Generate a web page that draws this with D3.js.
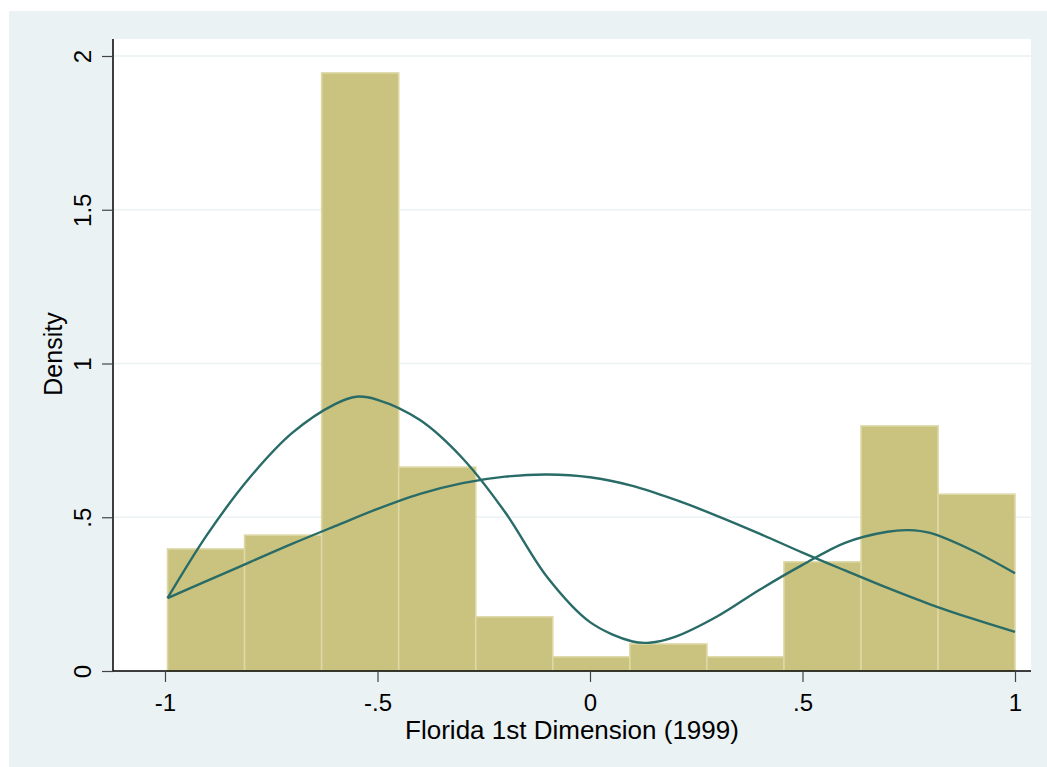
<!DOCTYPE html>
<html>
<head>
    <meta charset="utf-8">
    <title>Florida 1st Dimension</title>
    <script src="https://d3js.org/d3.v7.min.js"></script>
    <style>
      body { margin: 0; background: #ffffff; }
      text { font-family: Arial, "Liberation Sans", sans-serif; fill: #000; }
    </style>
</head>
<body>
<div id="my_dataviz"></div>
<script>

// histogram bins (edges) and density heights
var binEdges = [-0.994, -0.8127, -0.6314, -0.4501, -0.2688, -0.0875, 0.0938, 0.2751, 0.4564, 0.6377, 0.8190, 1.0];
var densities = [0.397, 0.442, 1.945, 0.663, 0.176, 0.046, 0.088, 0.046, 0.355, 0.797, 0.575];

// kernel density curve (bimodal)
var kdeX = [-0.994, -0.9, -0.8, -0.7, -0.6, -0.55, -0.5, -0.4, -0.3, -0.2, -0.1, 0.0, 0.1, 0.14, 0.2, 0.3, 0.4, 0.5, 0.6, 0.7, 0.75, 0.8, 0.9, 1.0];
var kdeY = [0.237, 0.445, 0.630, 0.775, 0.868, 0.892, 0.882, 0.816, 0.692, 0.517, 0.304, 0.159, 0.096, 0.092, 0.111, 0.178, 0.265, 0.345, 0.417, 0.453, 0.458, 0.449, 0.392, 0.318];

// normal density curve
var normX = [-0.994, -0.9, -0.8, -0.7, -0.6, -0.5, -0.4, -0.3, -0.2, -0.1, 0.0, 0.1, 0.2, 0.3, 0.4, 0.5, 0.6, 0.7, 0.8, 0.9, 1.0];
var normY = [0.237, 0.294, 0.354, 0.414, 0.471, 0.527, 0.576, 0.611, 0.632, 0.639, 0.630, 0.602, 0.557, 0.504, 0.446, 0.385, 0.327, 0.270, 0.217, 0.170, 0.127];

var xTicks = [-1, -0.5, 0, 0.5, 1];
var xTickLabels = ["-1", "-.5", "0", ".5", "1"];
var yTicks = [0, 0.5, 1, 1.5, 2];
var yTickLabels = ["0", ".5", "1", "1.5", "2"];

var W = 1047, H = 767;
// plot region
var plotLeft = 113, plotRight = 1031, plotTop = 39, plotBottom = 671;

var svg = d3.select("#my_dataviz")
  .append("svg")
    .attr("width", W)
    .attr("height", H);

// outer background
svg.append("rect")
  .attr("x", 9).attr("y", 11)
  .attr("width", W - 9).attr("height", H - 11)
  .attr("fill", "#eaf2f3");

// plot area
svg.append("rect")
  .attr("x", plotLeft).attr("y", plotTop)
  .attr("width", plotRight - plotLeft).attr("height", plotBottom - plotTop)
  .attr("fill", "#ffffff");

var x = d3.scaleLinear().domain([-1, 1]).range([165, 1015]);
var y = d3.scaleLinear().domain([0, 2]).range([671, 56]);

// gridlines
svg.append("g")
  .selectAll("line")
  .data(yTicks.filter(function(d) { return d > 0; }))
  .join("line")
    .attr("x1", plotLeft).attr("x2", plotRight)
    .attr("y1", function(d) { return y(d); })
    .attr("y2", function(d) { return y(d); })
    .attr("stroke", "#eaf2f3")
    .attr("stroke-width", 1.5);

// bars
svg.append("g")
  .selectAll("rect")
  .data(densities)
  .join("rect")
    .attr("x", function(d, i) { return x(binEdges[i]); })
    .attr("width", function(d, i) { return x(binEdges[i + 1]) - x(binEdges[i]); })
    .attr("y", function(d) { return y(d); })
    .attr("height", function(d) { return y(0) - y(d); })
    .attr("fill", "#cac27f")
    .attr("stroke", "#ddd8a6")
    .attr("stroke-width", 1.6);

// curves
var line = d3.line()
  .x(function(d) { return x(d[0]); })
  .y(function(d) { return y(d[1]); })
  .curve(d3.curveCatmullRom.alpha(0.5));

svg.append("path")
  .datum(d3.zip(normX, normY))
  .attr("fill", "none")
  .attr("stroke", "#286b67")
  .attr("stroke-width", 2.4)
  .attr("d", line);

svg.append("path")
  .datum(d3.zip(kdeX, kdeY))
  .attr("fill", "none")
  .attr("stroke", "#286b67")
  .attr("stroke-width", 2.4)
  .attr("d", line);

// X axis
var xAxis = svg.append("g")
  .attr("transform", "translate(0," + plotBottom + ")")
  .call(d3.axisBottom(x).tickValues(xTicks).tickSize(11).tickFormat(function(d, i) { return xTickLabels[i]; }));
xAxis.select(".domain").attr("d", "M" + plotLeft + ",0H" + plotRight).attr("stroke", "#000").attr("stroke-width", 1.5);
xAxis.selectAll(".tick line").attr("stroke", "#444").attr("stroke-width", 1.2);
xAxis.selectAll(".tick text")
  .attr("y", 40).attr("dy", null)
  .style("font-size", "24px")
  .style("font-family", "Arial, 'Liberation Sans', sans-serif")
  .attr("fill", "#000");

// Y axis
var yAxis = svg.append("g")
  .attr("transform", "translate(" + plotLeft + ",0)")
  .call(d3.axisLeft(y).tickValues(yTicks).tickSize(11).tickFormat(function(d, i) { return yTickLabels[i]; }));
yAxis.select(".domain").attr("d", "M0," + plotTop + "V" + plotBottom).attr("stroke", "#000").attr("stroke-width", 1.5);
yAxis.selectAll(".tick line").attr("stroke", "#444").attr("stroke-width", 1.2);
yAxis.selectAll(".tick text")
  .attr("x", null).attr("dy", null)
  .attr("text-anchor", "middle")
  .attr("transform", "translate(-22,0) rotate(-90)")
  .style("font-size", "24px")
  .style("font-family", "Arial, 'Liberation Sans', sans-serif")
  .attr("fill", "#000");

// axis titles
svg.append("text")
  .attr("x", (plotLeft + plotRight) / 2)
  .attr("y", 739)
  .attr("text-anchor", "middle")
  .style("font-size", "26px")
  .text("Florida 1st Dimension (1999)");

svg.append("text")
  .attr("transform", "translate(62," + 354 + ") rotate(-90)")
  .attr("text-anchor", "middle")
  .style("font-size", "25px")
  .text("Density");

</script>
</body>
</html>
